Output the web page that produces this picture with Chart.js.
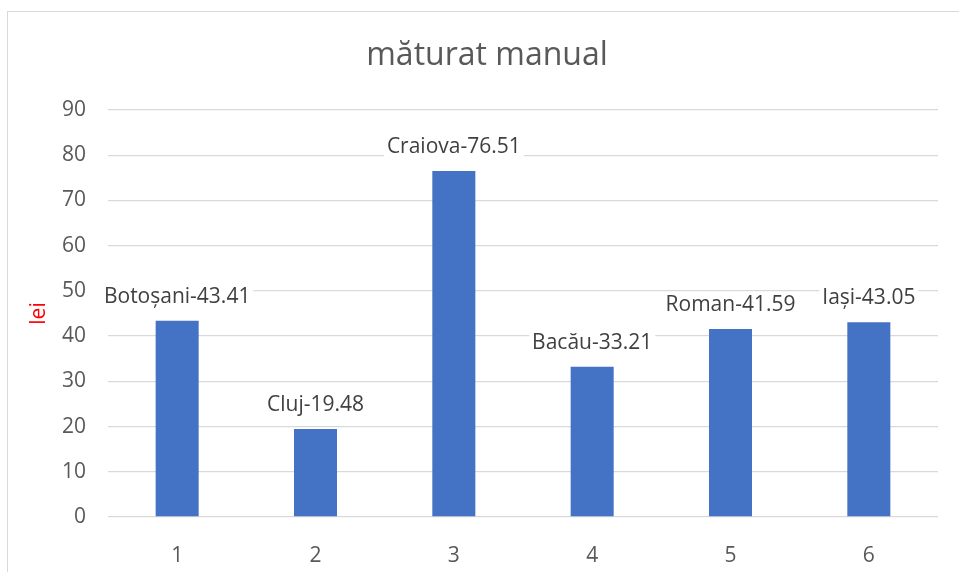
<!DOCTYPE html>
<html>
<head>
<meta charset="utf-8">
<script src="https://cdn.jsdelivr.net/npm/chart.js@4"></script>
<style>
  html, body { margin: 0; padding: 0; background: #fff; }
  #frame {
    position: absolute; left: 7px; top: 11px; width: 1000px; height: 600px;
    border-left: 1.5px solid #d9d9d9; border-top: 1.5px solid #d9d9d9;
  }
  #wrap { position: absolute; left: 0; top: 0; width: 959px; height: 572px; }
</style>
</head>
<body>
<div id="frame"></div>
<div id="wrap"><canvas id="chart"></canvas></div>
<script>
// ── data ─────────────────────────────────────────────
const categories = ['1', '2', '3', '4', '5', '6'];
const cities     = ['Botoșani', 'Cluj', 'Craiova', 'Bacău', 'Roman', 'Iași'];
const prices     = [43.41, 19.48, 76.51, 33.21, 41.59, 43.05];
const yTicks     = [0, 10, 20, 30, 40, 50, 60, 70, 80, 90];

const FONT = '"Open Sans", "Noto Sans", sans-serif';

// Title + boxed labels above each bar (Excel style)
const decorPlugin = {
  id: 'decor',
  afterDatasetsDraw(chart) {
    const { ctx } = chart;
    const meta = chart.getDatasetMeta(0);
    ctx.save();
    ctx.font = `21px ${FONT}`;
    ctx.textAlign = 'center';
    ctx.textBaseline = 'middle';
    meta.data.forEach((bar, i) => {
      const txt = `${cities[i]}-${prices[i].toFixed(2)}`;
      const w = ctx.measureText(txt).width;
      const cy = bar.y - 24;
      ctx.fillStyle = '#fff';
      ctx.fillRect(bar.x - w / 2 - 3, cy - 12, w + 6, 24);
      ctx.fillStyle = '#404040';
      ctx.fillText(txt, bar.x, cy);
    });
    ctx.restore();
  },
  afterDraw(chart) {
    const { ctx } = chart;
    ctx.save();
    ctx.font = `32px ${FONT}`;
    ctx.fillStyle = '#595959';
    ctx.textAlign = 'center';
    ctx.textBaseline = 'middle';
    ctx.fillText('măturat manual', 487, 56);
    ctx.restore();
  },
};

new Chart(document.getElementById('chart'), {
  type: 'bar',
  data: {
    labels: categories,
    datasets: [{
      data: prices,
      backgroundColor: '#4472c4',
      borderWidth: 0,
      barPercentage: 0.311,
      categoryPercentage: 1,
    }],
  },
  plugins: [decorPlugin],
  options: {
    responsive: true,
    maintainAspectRatio: false,
    animation: false,
    layout: { padding: { left: 0, right: 21, top: 110, bottom: 0 } },
    plugins: { legend: { display: false }, tooltip: { enabled: false } },
    scales: {
      x: {
        grid: { display: false },
        border: { display: false },
        ticks: { color: '#595959', font: { family: FONT, size: 21 }, padding: 18 },
        afterFit: s => { s.height = 55; },
      },
      y: {
        min: 0,
        max: 90,
        afterBuildTicks: s => { s.ticks = yTicks.map(v => ({ value: v })); },
        grid: { color: '#d9d9d9', lineWidth: 1.3, drawTicks: false },
        border: { display: false },
        ticks: { color: '#595959', font: { family: FONT, size: 21 }, padding: 22 },
        title: {
          display: true, text: 'lei', color: '#ff0000',
          font: { family: FONT, size: 21 }, padding: { top: 26, bottom: 0 },
        },
        afterFit: s => { s.width = 108; },
      },
    },
  },
});
</script>
</body>
</html>
